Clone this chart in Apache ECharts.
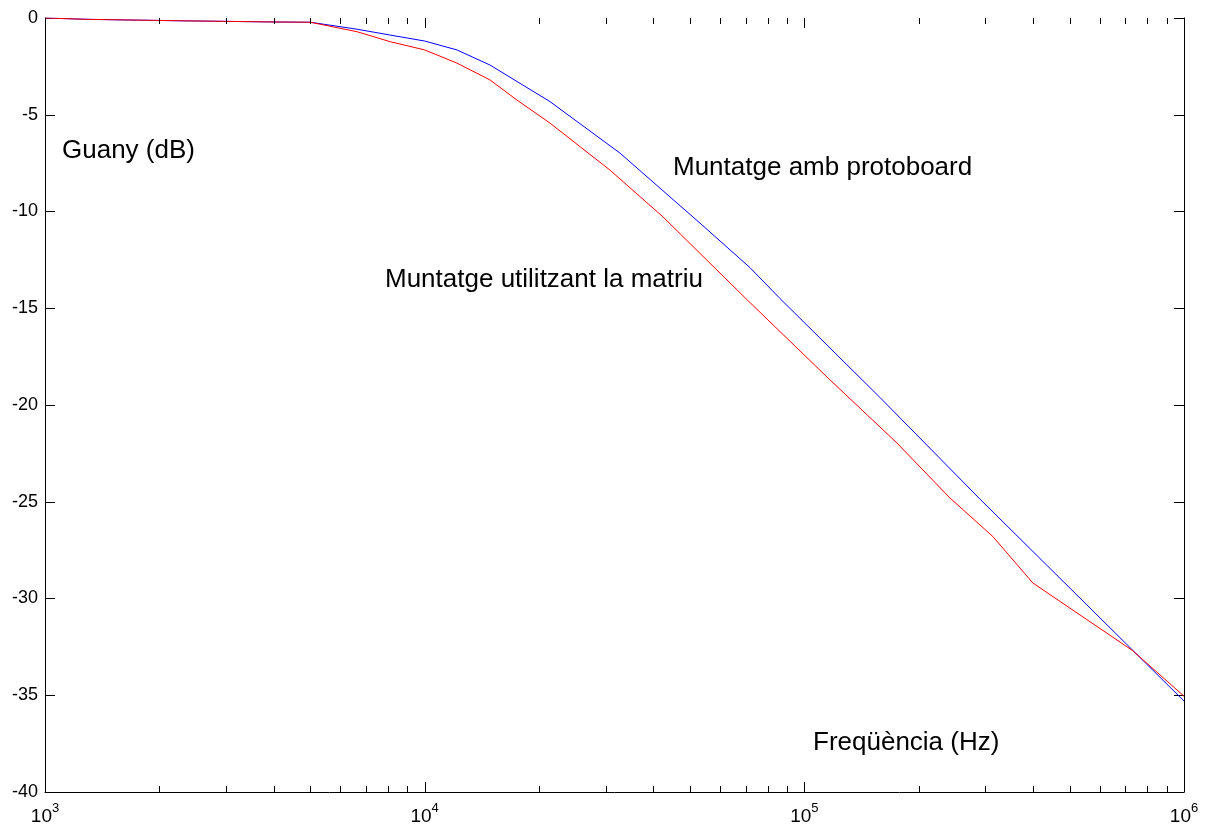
<!DOCTYPE html>
<html><head><meta charset="utf-8">
<script src="https://cdn.jsdelivr.net/npm/echarts@6/dist/echarts.min.js"></script>
<style>html,body{margin:0;padding:0;background:#fff}#c{width:1207px;height:826px}</style>
</head><body><div id="c"></div>
<script>
// Data
const freqProto = [1000, 1300, 2200, 3800, 5000, 6640, 8100, 10000, 12160, 14860, 17500, 21380, 32680, 53100, 71900, 86300, 158000, 289700, 1000000];
const gainProto = [0, -0.07, -0.14, -0.2, -0.22, -0.58, -0.88, -1.19, -1.65, -2.43, -3.28, -4.32, -6.98, -10.6, -12.9, -14.5, -19.6, -24.85, -35.3];
const freqMatriu = [1000, 1300, 2200, 3800, 5000, 6640, 8100, 10000, 12160, 14860, 17500, 21380, 30760, 42440, 71000, 116800, 175300, 241700, 313800, 400000, 509700, 733000, 1000000];
const gainMatriu = [0, -0.07, -0.14, -0.2, -0.22, -0.71, -1.22, -1.65, -2.33, -3.2, -4.24, -5.43, -7.86, -10.28, -14.6, -18.7, -21.96, -24.8, -26.8, -29.2, -30.6, -32.7, -35.05];
const xMajorTicks = [1000, 10000, 100000, 1000000];
const xMinorTicks = [2000, 3000, 4000, 5000, 6000, 7000, 8000, 9000, 20000, 30000, 40000, 50000, 60000, 70000, 80000, 90000, 200000, 300000, 400000, 500000, 600000, 700000, 800000, 900000];
const xLabelBase = '10';
const yMin = -40, yMax = 0, yStep = 5;
const xMin = 1000, xMax = 1000000;
const texts = {
  yName: 'Guany (dB)',
  xName: 'Freqüència (Hz)',
  proto: 'Muntatge amb protoboard',
  matriu: 'Muntatge utilitzant la matriu'
};

const FONT = '"Liberation Sans", Arial, sans-serif';
const chart = echarts.init(document.getElementById('c'), null, {renderer: 'canvas'});
const axisLine = {show: true, onZero: false, lineStyle: {color: '#000', width: 1}};
const tickStyle = {show: true, inside: true, length: 10, lineStyle: {color: '#000', width: 1}};
// tick list for the custom tick series: [value, length]
const tickData = xMajorTicks.map(v => [v, 10]).concat(xMinorTicks.map(v => [v, 6]));

chart.setOption({
  animation: false,
  backgroundColor: '#fff',
  grid: {left: 45, right: 23, top: 18, bottom: 34, containLabel: false},
  xAxis: {type: 'log', logBase: 10, min: xMin, max: xMax, position: 'bottom',
    axisLine: axisLine, axisTick: {show: false}, splitLine: {show: false},
    axisLabel: {show: true, margin: 10, color: '#000',
      formatter: v => '{b|' + xLabelBase + '}{s|' + Math.round(Math.log10(v)) + '}',
      rich: {
        b: {fontFamily: FONT, fontSize: 19, color: '#000', lineHeight: 24, verticalAlign: 'bottom'},
        s: {fontFamily: FONT, fontSize: 13, color: '#000', lineHeight: 24, verticalAlign: 'top'}
      }}},
  yAxis: [
    {type: 'value', min: yMin, max: yMax, interval: yStep, position: 'left',
     axisLine: axisLine, axisTick: tickStyle, splitLine: {show: false},
     axisLabel: {show: true, margin: 7, color: '#000', fontFamily: FONT, fontSize: 18}},
    {type: 'value', min: yMin, max: yMax, interval: yStep, position: 'right',
     axisLine: axisLine, axisTick: tickStyle, splitLine: {show: false}, axisLabel: {show: false}}
  ],
  series: [
    {type: 'custom', xAxisIndex: 0, yAxisIndex: 0, silent: true, clip: false, z: 5,
     data: tickData.map(d => [d[0], yMin, d[1]]),
     dimensions: ['x', 'y', 'len'],
     encode: {x: 0, y: 1},
     renderItem: (params, api) => {
       const cs = params.coordSys;
       const x = Math.round(api.coord([api.value(0), yMin])[0]) + 0.5;
       const len = api.value(2);
       const st = {stroke: '#000', lineWidth: 1, fill: null};
       return {type: 'group', children: [
         {type: 'line', shape: {x1: x, y1: cs.y + cs.height, x2: x, y2: cs.y + cs.height - len}, style: st},
         {type: 'line', shape: {x1: x, y1: cs.y, x2: x, y2: cs.y + len}, style: st}
       ]};
     }},
    {name: 'protoboard', type: 'line', showSymbol: false, symbol: 'none',
     data: freqProto.map((f, i) => [f, gainProto[i]]),
     lineStyle: {color: '#0000ff', width: 1}, itemStyle: {color: '#0000ff'}},
    {name: 'matriu', type: 'line', showSymbol: false, symbol: 'none',
     data: freqMatriu.map((f, i) => [f, gainMatriu[i]]),
     lineStyle: {color: '#ff0000', width: 1}, itemStyle: {color: '#ff0000'}}
  ],
  graphic: [
    {type: 'text', silent: true, style: {text: texts.yName, x: 62, y: 151, font: '26px ' + FONT, fill: '#000', align: 'left', verticalAlign: 'middle'}},
    {type: 'text', silent: true, style: {text: texts.proto, x: 673, y: 168, font: '26px ' + FONT, fill: '#000', align: 'left', verticalAlign: 'middle'}},
    {type: 'text', silent: true, style: {text: texts.matriu, x: 385, y: 280, font: '26px ' + FONT, fill: '#000', align: 'left', verticalAlign: 'middle'}},
    {type: 'text', silent: true, style: {text: texts.xName, x: 813, y: 743, font: '26px ' + FONT, fill: '#000', align: 'left', verticalAlign: 'middle'}}
  ]
});
</script>
</body></html>
